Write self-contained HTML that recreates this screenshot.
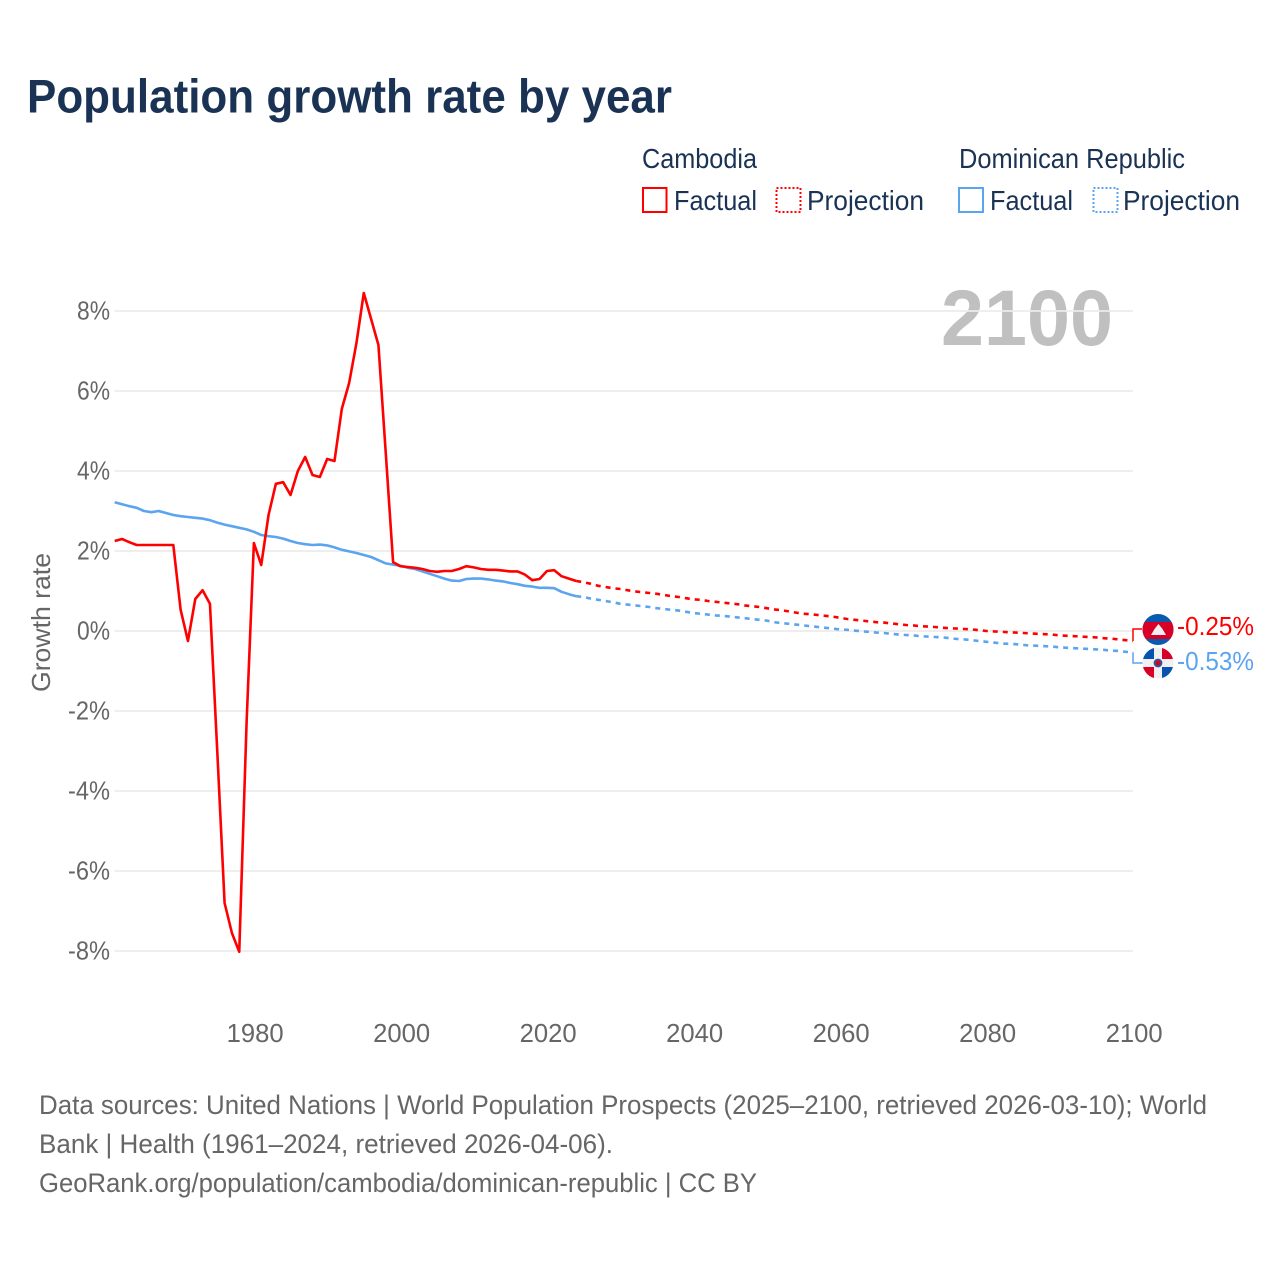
<!DOCTYPE html>
<html lang="en">
<head>
<meta charset="utf-8">
<title>Population growth rate by year</title>
<style>
html,body{margin:0;padding:0;background:#fff}
svg{display:block}
text{font-family:"Liberation Sans",sans-serif}
</style>
</head>
<body>
<svg id="chart" xmlns="http://www.w3.org/2000/svg" width="1280" height="1280" viewBox="0 0 1280 1280">
<defs>
<clipPath id="clip-kh"><circle cx="1158" cy="629.500" r="15.500"/></clipPath>
<clipPath id="clip-do"><circle cx="1158" cy="663" r="15.500"/></clipPath>
</defs>
<rect width="1280" height="1280" fill="#fff"/>
<text x="27" y="112.500" font-size="47" font-weight="700" fill="#1a3355" textLength="645" lengthAdjust="spacingAndGlyphs">Population growth rate by year</text>

<g font-size="28" fill="#1a3355">
<text x="642" y="168" textLength="115" lengthAdjust="spacingAndGlyphs">Cambodia</text>
<text x="959" y="168" textLength="226" lengthAdjust="spacingAndGlyphs">Dominican Republic</text>
<rect x="643" y="188" width="23.500" height="24" fill="none" stroke="#ff0000" stroke-width="2"/>
<text x="674" y="210" textLength="83" lengthAdjust="spacingAndGlyphs">Factual</text>
<rect x="776.500" y="188" width="24" height="24" fill="none" stroke="#ff0000" stroke-width="2" stroke-dasharray="2 2"/>
<text x="807" y="210" textLength="117" lengthAdjust="spacingAndGlyphs">Projection</text>
<rect x="959" y="188" width="24" height="24" fill="none" stroke="#5ba4ef" stroke-width="2"/>
<text x="990" y="210" textLength="83" lengthAdjust="spacingAndGlyphs">Factual</text>
<rect x="1093.500" y="188" width="24" height="24" fill="none" stroke="#5ba4ef" stroke-width="2" stroke-dasharray="2 2"/>
<text x="1123" y="210" textLength="117" lengthAdjust="spacingAndGlyphs">Projection</text>
</g>

<text x="941" y="345" font-size="79" font-weight="700" fill="#c0c0c0" textLength="172" lengthAdjust="spacingAndGlyphs">2100</text>
<g id="grid"></g>
<g id="yticks"></g>
<g id="xticks"></g>
<text transform="translate(50,622.500) rotate(-90)" text-anchor="middle" font-size="26" fill="#666" textLength="139" lengthAdjust="spacingAndGlyphs">Growth rate</text>
<g id="series"></g>

<g clip-path="url(#clip-kh)">
<rect x="1142" y="613" width="32" height="33" fill="#0a5bb0"/>
<rect x="1142" y="622" width="32" height="17" fill="#d80027"/>
<polygon points="1151,635 1166,635 1162.500,629 1158.500,624 1154.500,629" fill="#f0f0f0"/>
</g>
<g clip-path="url(#clip-do)">
<rect x="1142" y="647" width="32" height="32" fill="#f0f0f0"/>
<rect x="1142" y="647" width="12" height="12" fill="#0a52b0"/>
<rect x="1162" y="647" width="12" height="12" fill="#d80027"/>
<rect x="1142" y="667" width="12" height="12" fill="#d80027"/>
<rect x="1162" y="667" width="12" height="12" fill="#0a52b0"/>
<circle cx="1158" cy="663" r="3.500" fill="#d80027" stroke="#2a5a9a" stroke-width="1.800"/>
</g>

<g font-size="27" fill="#666">
<text x="39" y="1114" textLength="1168" lengthAdjust="spacingAndGlyphs">Data sources: United Nations | World Population Prospects (2025–2100, retrieved 2026-03-10); World</text>
<text x="39" y="1153" textLength="574" lengthAdjust="spacingAndGlyphs">Bank | Health (1961–2024, retrieved 2026-04-06).</text>
<text x="39" y="1192" textLength="718" lengthAdjust="spacingAndGlyphs">GeoRank.org/population/cambodia/dominican-republic | CC BY</text>
</g>
</svg>
<script>
const yTickValues = [8, 6, 4, 2, 0, -2, -4, -6, -8];
const xTickYears = [1980, 2000, 2020, 2040, 2060, 2080, 2100];
const factualStartYear = 1961;
const projectionStartYear = 2024;
const cambodiaFactual = [2.25,2.30,2.22,2.15,2.15,2.15,2.15,2.15,2.15,0.53,-0.25,0.80,1.02,0.68,-3.00,-6.80,-7.55,-8.02,-2.30,2.20,1.65,2.90,3.68,3.72,3.40,4.00,4.35,3.90,3.85,4.30,4.25,5.55,6.20,7.20,8.45,7.80,7.15,4.45,1.72,1.62,1.60,1.58,1.55,1.50,1.48,1.50,1.50,1.55,1.62,1.59,1.55,1.53,1.53,1.51,1.49,1.49,1.41,1.27,1.30,1.50,1.52,1.37,1.31,1.25];
const dominicanFactual = [3.22,3.17,3.12,3.08,3.00,2.97,3.00,2.95,2.90,2.87,2.85,2.83,2.81,2.77,2.71,2.66,2.62,2.58,2.54,2.48,2.40,2.37,2.35,2.31,2.25,2.20,2.17,2.15,2.16,2.14,2.09,2.03,1.99,1.95,1.90,1.85,1.77,1.69,1.66,1.63,1.58,1.55,1.49,1.43,1.37,1.31,1.26,1.25,1.30,1.31,1.31,1.29,1.26,1.24,1.20,1.17,1.13,1.11,1.08,1.08,1.07,0.98,0.92,0.87];
const cambodiaProjection = [1.25,1.22,1.18,1.13,1.10,1.07,1.05,1.02,0.99,0.97,0.95,0.93,0.90,0.87,0.85,0.82,0.79,0.78,0.75,0.73,0.71,0.69,0.67,0.64,0.62,0.60,0.57,0.54,0.52,0.49,0.46,0.43,0.42,0.40,0.38,0.36,0.33,0.30,0.28,0.26,0.24,0.22,0.21,0.19,0.17,0.15,0.14,0.12,0.11,0.10,0.08,0.07,0.06,0.05,0.04,0.02,0.00,-0.01,-0.02,-0.03,-0.04,-0.05,-0.06,-0.07,-0.08,-0.09,-0.11,-0.12,-0.13,-0.14,-0.15,-0.16,-0.18,-0.19,-0.21,-0.23,-0.25];
const dominicanProjection = [0.87,0.85,0.81,0.78,0.75,0.72,0.68,0.66,0.64,0.62,0.60,0.57,0.55,0.53,0.51,0.48,0.45,0.43,0.41,0.39,0.38,0.36,0.34,0.32,0.30,0.28,0.26,0.22,0.20,0.18,0.16,0.14,0.12,0.10,0.08,0.06,0.04,0.03,0.01,-0.01,-0.02,-0.04,-0.05,-0.07,-0.09,-0.10,-0.11,-0.13,-0.14,-0.15,-0.16,-0.18,-0.20,-0.21,-0.23,-0.25,-0.27,-0.29,-0.31,-0.32,-0.33,-0.35,-0.36,-0.37,-0.38,-0.39,-0.41,-0.42,-0.43,-0.44,-0.45,-0.46,-0.47,-0.49,-0.50,-0.52,-0.53];

const NS = 'http://www.w3.org/2000/svg';
const xScale = function (year) { return 114.7 + (year - 1961) * (1133 - 114.7) / (2100 - 1961); };
const yScale = function (v) { return 631 - v * 40; };
const RED = '#ff0000';
const BLUE = '#5ba4ef';

function svgEl(tag, parent, attrs) {
  const el = document.createElementNS(NS, tag);
  Object.keys(attrs).forEach(function (k) { el.setAttribute(k, attrs[k]); });
  parent.appendChild(el);
  return el;
}
function pointsFrom(values, startYear) {
  return values.map(function (v, i) {
    return xScale(startYear + i).toFixed(2) + ',' + yScale(v).toFixed(2);
  }).join(' ');
}

const gridG = document.getElementById('grid');
const yG = document.getElementById('yticks');
yTickValues.forEach(function (v) {
  const line = svgEl('line', gridG, {x1: xScale(1961), x2: xScale(2100), y1: yScale(v), y2: yScale(v), stroke: '#ececec', 'stroke-width': 1.8});
  
  
  const label = v + '%';
  const width = (v < 0 ? 42 : 33);
  const t = svgEl('text', yG, {x: 110 - width, y: yScale(v) + 8.5, 'font-size': 26, fill: '#666', textLength: width, lengthAdjust: 'spacingAndGlyphs'});
  
  
  t.textContent = label;
});

const xG = document.getElementById('xticks');
xTickYears.forEach(function (yr) {
  const t = svgEl('text', xG, {x: xScale(yr) + 1.2 - 28.5, y: 1042, 'font-size': 26, fill: '#666', textLength: 57, lengthAdjust: 'spacingAndGlyphs'});
  
  
  t.textContent = yr;
});

const seriesG = document.getElementById('series');

const lineDoFactual = svgEl('polyline', seriesG, {points: pointsFrom(dominicanFactual, factualStartYear), fill: 'none', stroke: BLUE, 'stroke-width': 2.6, 'stroke-linejoin': 'round'});



const lineDoProj = svgEl('polyline', seriesG, {points: pointsFrom(dominicanProjection, projectionStartYear), fill: 'none', stroke: BLUE, 'stroke-width': 2.6, 'stroke-dasharray': '5 5'});



const lineKhFactual = svgEl('polyline', seriesG, {points: pointsFrom(cambodiaFactual, factualStartYear), fill: 'none', stroke: RED, 'stroke-width': 2.6, 'stroke-linejoin': 'round'});



const lineKhProj = svgEl('polyline', seriesG, {points: pointsFrom(cambodiaProjection, projectionStartYear), fill: 'none', stroke: RED, 'stroke-width': 2.6, 'stroke-dasharray': '5 5'});



const lastKh = cambodiaProjection[cambodiaProjection.length - 1];
const lastDo = dominicanProjection[dominicanProjection.length - 1];

const connKh = svgEl('polyline', seriesG, {points: '1133,' + yScale(lastKh).toFixed(1) + ' 1133,629 1142,629', fill: 'none', stroke: RED, 'stroke-width': 1.5});



const connDo = svgEl('polyline', seriesG, {points: '1133,' + yScale(lastDo).toFixed(1) + ' 1133,663 1143,663', fill: 'none', stroke: BLUE, 'stroke-width': 1.5});



const valKh = svgEl('text', seriesG, {x: 1177, y: 635, 'font-size': 26, fill: RED, textLength: 77, lengthAdjust: 'spacingAndGlyphs'});


valKh.textContent = lastKh.toFixed(2) + '%';

const valDo = svgEl('text', seriesG, {x: 1177, y: 670, 'font-size': 26, fill: BLUE, textLength: 77, lengthAdjust: 'spacingAndGlyphs'});


valDo.textContent = lastDo.toFixed(2) + '%';
</script>
</body>
</html>
